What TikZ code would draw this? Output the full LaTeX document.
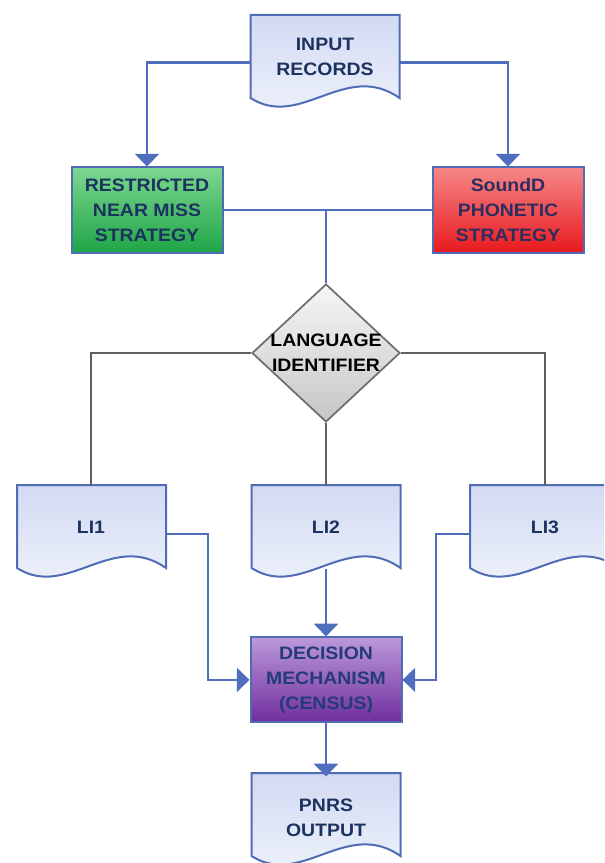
\documentclass[tikz,border=0pt]{standalone}
\usepackage{fontspec}
\newfontfamily\chartfont[FakeStretch=1.08]{Liberation Sans}
\usetikzlibrary{arrows.meta,shapes.geometric,positioning}

\definecolor{docLine}{RGB}{79,108,181}
\definecolor{docTop}{RGB}{210,218,243}
\definecolor{docBottom}{RGB}{242,245,252}
\definecolor{docText}{RGB}{28,50,95}
\definecolor{linkBlue}{RGB}{79,110,190}
\definecolor{branchGray}{RGB}{95,95,95}
\definecolor{grnTop}{RGB}{125,215,145}
\definecolor{grnBot}{RGB}{30,165,70}
\definecolor{redTop}{RGB}{246,135,135}
\definecolor{redBot}{RGB}{232,25,30}
\definecolor{purTop}{RGB}{188,152,218}
\definecolor{purBot}{RGB}{112,45,158}
\definecolor{diamTop}{RGB}{246,246,246}
\definecolor{diamBot}{RGB}{198,198,198}
\definecolor{diamLine}{RGB}{110,110,110}

\begin{document}
\begin{tikzpicture}[x=0.75pt,y=-0.75pt,
            every node/.style={align=center, font=\chartfont\bfseries\fontsize{13.5}{18.75}\selectfont},
            doc/.style={minimum width=111.75pt, minimum height=62.25pt, inner sep=0pt, text=docText},
            docshape/.style={draw=docLine, line width=1.5pt, top color=docTop, bottom color=docBottom},
            box/.style={draw=docLine, line width=1.5pt, minimum width=113.25pt, minimum height=63.75pt, inner sep=0pt},
            link/.style={draw=linkBlue, line width=1.6pt},
            feed/.style={link, -{Triangle[width=18pt,length=9.5pt]}},
            branch/.style={draw=branchGray, line width=1.5pt}
  ]
  \clip (0,0) rectangle (604,863);

  % document outlines (top centre of each sheet)
  \foreach \cx/\ty in {325/15, 91.5/485, 326/485, 544.5/485, 326/773}
    \path[docshape, shift={(\cx,\ty)}] (-74.5,0) -- (74.5,0) -- (74.5,83)
      .. controls (20.5,45) and (-24.5,115) .. (-74.5,83) -- cycle;

  \node[doc] (input) at (325,56.5) {INPUT\\RECORDS};
  \node[box, top color=grnTop, bottom color=grnBot, text=docText] (near) at (147,210) {RESTRICTED\\NEAR MISS\\STRATEGY};
  \node[box, top color=redTop, bottom color=redBot, text={rgb,255:red,45;green,45;blue,95}] (soundd) at (508,210) {SoundD\\PHONETIC\\STRATEGY};
  \node[diamond, draw=diamLine, line width=1.3pt, top color=diamTop, bottom color=diamBot,
        minimum width=111pt, minimum height=103.5pt, inner sep=0pt,
        label={[text=black]center:LANGUAGE\\IDENTIFIER}] (lang) at (326,353) {};
  \node[doc] (li2) [below=47.25pt of lang] {LI2};
  \node[doc] (li1) [left=64.1pt of li2] {LI1};
  \node[doc] (li3) [right=52.1pt of li2] {LI3};
  \node[box, top color=purTop, bottom color=purBot, text={rgb,255:red,35;green,60;blue,120}] (dec) [below=50.25pt of li2] {DECISION\\MECHANISM\\(CENSUS)};
  \node[doc] (pnrs) [below=39.75pt of dec] {PNRS\\OUTPUT};

  \draw[feed] ([yshift=-4.5pt]input.west) -| (near.north);
  \draw[feed] ([yshift=-4.5pt]input.east) -| (soundd.north);
  \draw[link] (near.east) -- (soundd.west);
  \draw[link] (lang.north) -- (lang.north |- near.east);

  \draw[branch] (lang.west) -| (li1.north);
  \draw[branch] (lang.east) -| (li3.north);
  \draw[branch] (lang.south) -- (li2.north);

  \draw[feed] (li2.south) -- (dec.north);
  \draw[feed] ([yshift=-4.5pt]li1.east) -- ++(42,0) |- (dec.west);
  \draw[feed] ([yshift=-4.5pt]li3.west) -- ++(-34,0) |- (dec.east);
  \draw[feed] (dec.south) -- (pnrs.north);

\end{tikzpicture}
\end{document}
